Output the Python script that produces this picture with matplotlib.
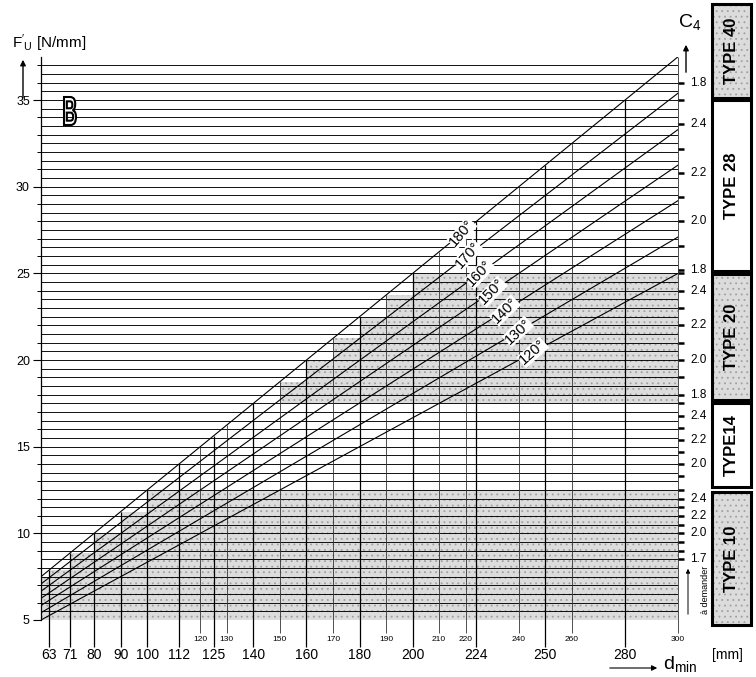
import numpy as np
import matplotlib.pyplot as plt
from matplotlib.patches import Rectangle, PathPatch
from matplotlib.textpath import TextPath
from matplotlib.font_manager import FontProperties
from matplotlib.transforms import Affine2D

plt.rcParams['font.family'] = ['Liberation Sans', 'DejaVu Sans']
plt.rcParams['mathtext.default'] = 'regular'
plt.rcParams['hatch.linewidth'] = 0.6

W, H = 756, 677

# wrap angle lines: F'U read at d = 300 mm
angles = [180, 170, 160, 150, 140, 130, 120]
f_at_300 = [37.5, 35.4, 33.3, 31.25, 29.2, 27.1, 25.0]
label_d = [218.6, 220.8, 225.3, 229.9, 234.8, 239.7, 245.3]

# pulley diameters
d_major = [63, 71, 80, 90, 100, 112, 125, 140, 160, 180, 200, 224, 250, 280]
d_minor = [120, 130, 150, 170, 190, 210, 220, 240, 260, 300]

# belt types and C4 scales
types = ['TYPE 10', 'TYPE14', 'TYPE 20', 'TYPE 28', 'TYPE 40']
type_factor = [5, 7, 10, 14, 20]
band_lo = [5, 12.5, 17.5, 25, 35]
band_hi = [12.5, 17.5, 25, 35, 37.5]
band_shaded = [True, False, True, False, True]
c4_ticks = [[1.7, 1.8, 1.9, 2.0, 2.1, 2.2, 2.3, 2.4, 2.5],
            [1.9, 2.0, 2.1, 2.2, 2.3, 2.4, 2.5],
            [1.8, 1.9, 2.0, 2.1, 2.2, 2.3, 2.4, 2.5],
            [1.8, 1.9, 2.0, 2.1, 2.2, 2.3, 2.4, 2.5],
            [1.8]]
c4_labels = [[1.7, 2.0, 2.2, 2.4],
             [2.0, 2.2, 2.4],
             [1.8, 2.0, 2.2, 2.4],
             [1.8, 2.0, 2.2, 2.4],
             [1.8]]
# box extents on the right (pixels, top/bottom)
box_px = [(492, 625), (403, 487), (274, 400), (100, 271), (4, 98)]


def fx(x):
    return x / W


def fy(y):
    return 1 - y / H


fig = plt.figure(figsize=(W / 100, H / 100), dpi=100)
ax = fig.add_axes([fx(41), fy(620), (678 - 41) / W, (620 - 56.8) / H])
ax.set_xlim(60, 300)
ax.set_ylim(5, 37.5)
for s in ['top', 'right', 'bottom']:
    ax.spines[s].set_visible(False)
ax.spines['left'].set_linewidth(0.9)
ax.set_xticks([])
ax.set_yticks(range(5, 36, 5))
ax.set_yticks(range(5, 38), minor=True)
ax.tick_params(axis='y', which='major', length=6, width=0.8, labelsize=9, pad=2)
ax.tick_params(axis='y', which='minor', length=3, width=0.7)

gray = '#dcdcdc'
dots = '#a0a0a0'
k180 = f_at_300[0] / 300

# stippled zones under the 180 deg staircase
steps = sorted([60] + d_major + d_minor)
tops = np.array([d * k180 for d in steps])
for lo, hi, sh in zip(band_lo, band_hi, band_shaded):
    if not sh:
        continue
    y = np.clip(tops, lo, hi)
    ax.fill_between(steps, lo, y, step='post', facecolor=gray, edgecolor=dots,
                    hatch='...', linewidth=0, zorder=0)

# horizontal grid
ax.hlines(np.arange(5, 37.01, 0.5), 60, 300, color='k', lw=0.65, zorder=1)

# vertical diameter lines up to the 180 deg line
ax.vlines(d_major, 3.44, [d * k180 for d in d_major], color='k', lw=0.9,
          clip_on=False, zorder=2)
ax.vlines(d_minor, 4.25, [d * k180 for d in d_minor], color='#333333', lw=0.6,
          clip_on=False, zorder=2)

# angle lines
for a, f, dl in zip(angles, f_at_300, label_d):
    ax.plot([60, 300], [60 * f / 300, f], color='k', lw=0.8, zorder=3)
    rot = np.degrees(np.arctan(f / 300)) + 3
    ax.text(dl, dl * f / 300, f'{a}°', rotation=rot, transform_rotates_text=True,
            rotation_mode='anchor', ha='center', va='center', fontsize=10.5,
            bbox=dict(fc='white', ec='none', pad=0.2), zorder=4)

# bottom diameter labels
for d in d_major:
    ax.text(d, 2.98, str(d), ha='center', va='center', fontsize=10, clip_on=False)
for d in d_minor:
    ax.text(d, 3.85, str(d), ha='center', va='center', fontsize=6, clip_on=False)

# C4 scales on the right
for fac, tk, lb in zip(type_factor, c4_ticks, c4_labels):
    for c in tk:
        ax.plot([300, 302.2], [c * fac, c * fac], color='k', lw=1.8,
                solid_capstyle='butt', clip_on=False)
    for c in lb:
        ax.text(304.5, c * fac, f'{c:.1f}', ha='left', va='center', fontsize=8.5,
                clip_on=False)

# type boxes
for t, (y0, y1), sh in zip(types, box_px, band_shaded):
    r = Rectangle((fx(712), fy(y1)), fx(751) - fx(712), fy(y0) - fy(y1),
                  transform=fig.transFigure, facecolor=gray if sh else 'white',
                  edgecolor='k', lw=2.2)
    fig.add_artist(r)
    if sh:
        r2 = Rectangle((fx(714), fy(y1 - 2)), fx(749) - fx(714), fy(y0 + 2) - fy(y1 - 2),
                       transform=fig.transFigure, facecolor='none', edgecolor=dots,
                       lw=0, hatch='...')
        fig.add_artist(r2)
    fig.text(fx(731.5), fy((y0 + y1) / 2), t, rotation=90, ha='center', va='center',
             fontsize=12, fontweight='bold')

# axis titles and arrows
fig.text(fx(12), fy(43), r"$F'_U$ [N/mm]", fontsize=11, va='center')
ax.annotate('', xy=(fx(23), fy(57)), xytext=(fx(23), fy(100)),
            xycoords='figure fraction', textcoords='figure fraction',
            arrowprops=dict(arrowstyle='-|>', lw=1, color='k', mutation_scale=8))
fig.text(fx(678), fy(22), r'$C_4$', fontsize=14, va='center')
ax.annotate('', xy=(fx(686), fy(42)), xytext=(fx(686), fy(75)),
            xycoords='figure fraction', textcoords='figure fraction',
            arrowprops=dict(arrowstyle='-|>', lw=1, color='k', mutation_scale=8))
fig.text(fx(663), fy(664), r'$d_{min}$', fontsize=14, va='center')
fig.text(fx(712), fy(655), '[mm]', fontsize=10, va='center')
ax.annotate('', xy=(fx(660), fy(668)), xytext=(fx(607), fy(668)),
            xycoords='figure fraction', textcoords='figure fraction',
            arrowprops=dict(arrowstyle='-|>', lw=0.8, color='k', mutation_scale=8))

# "a demander" mark below C4 = 1.7
fig.text(fx(706), fy(590), 'à demander', rotation=90, ha='center', va='center',
         fontsize=6.5)
ax.annotate('', xy=(fx(688), fy(566)), xytext=(fx(688), fy(617)),
            xycoords='figure fraction', textcoords='figure fraction',
            arrowprops=dict(arrowstyle='-|>', lw=0.7, color='k', mutation_scale=6))

# big narrow outlined B
tp = TextPath((0, 0), 'B', size=100, prop=FontProperties(family='Liberation Sans', weight='bold'))
ext = tp.get_extents()
tr = (Affine2D().translate(-ext.x0, -ext.y0)
      .scale(12 / ext.width, 28 / ext.height)
      .translate(64, H - 125))
patch = PathPatch(tr.transform_path(tp), facecolor='white', edgecolor='k', lw=1.5,
                  transform=None)
fig.add_artist(patch)

fig.savefig('out.png', dpi=100)
